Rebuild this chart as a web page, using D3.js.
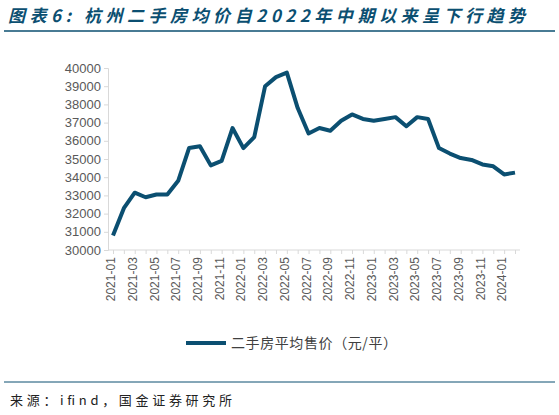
<!DOCTYPE html>
<html><head><meta charset="utf-8">
<script src="https://cdn.jsdelivr.net/npm/d3@7"></script>
<style>body{margin:0;background:#fff}svg{font-family:"Noto Sans CJK SC","Noto Sans",sans-serif}</style>
</head><body><svg id="c" width="559" height="415"></svg>
<script>
const months = ['2021-01','2021-02','2021-03','2021-04','2021-05','2021-06','2021-07','2021-08','2021-09','2021-10','2021-11','2021-12',
  '2022-01','2022-02','2022-03','2022-04','2022-05','2022-06','2022-07','2022-08','2022-09','2022-10','2022-11','2022-12',
  '2023-01','2023-02','2023-03','2023-04','2023-05','2023-06','2023-07','2023-08','2023-09','2023-10','2023-11','2023-12',
  '2024-01','2024-02']
const prices = [30800,32300,33150,32900,33050,33050,33800,35600,35700,34650,34900,36700,
  35600,36200,39000,39500,39750,37800,36400,36700,36550,37100,37450,37200,
  37100,37200,37300,36800,37300,37200,35600,35300,35050,34950,34700,34600,
  34150,34250]
const yTicks = d3.range(30000, 40001, 1000)
const color = '#0b4f71'

const svg = d3.select('#c')
svg.append('text').attr('x', 8).attr('y', 22).attr('font-size', 17).attr('font-weight', 'bold')
  .attr('font-style', 'italic').attr('fill', color).attr('textLength', 517).attr('lengthAdjust', 'spacing')
  .text('图表6: 杭州二手房均价自2022年中期以来呈下行趋势')
svg.append('line').attr('x1', 4).attr('x2', 555).attr('y1', 31).attr('y2', 31).attr('stroke', color).attr('stroke-width', 1.5)

const x = d3.scalePoint().domain(months).range([113, 515])
const y = d3.scaleLinear().domain([30000, 40000]).range([250, 68])

const yAxis = svg.append('g').attr('transform', 'translate(108,0)')
  .call(d3.axisLeft(y).tickValues(yTicks).tickSize(4).tickFormat(d3.format('d')))
yAxis.selectAll('text').attr('font-size', 13).attr('fill', '#595959').attr('font-family', 'Liberation Sans, Arial')
yAxis.selectAll('line,path').attr('stroke', '#d9d9d9')

const xAxis = svg.append('g').attr('transform', 'translate(0,250)')
  .call(d3.axisBottom(x).tickSize(4).tickFormat((d, i) => i % 2 === 0 ? d : ''))
xAxis.select('path').attr('d', 'M108,0H520').attr('stroke', '#d9d9d9')
xAxis.selectAll('line').attr('stroke', '#d9d9d9')
xAxis.selectAll('text').attr('font-size', 12).attr('fill', '#595959').attr('font-family', 'Liberation Sans, Arial')
  .attr('transform', 'rotate(-90)').attr('text-anchor', 'end').attr('dx', '-0.6em').attr('dy', '-0.45em')

svg.append('path').datum(prices)
  .attr('d', d3.line().x((d, i) => x(months[i])).y(d => y(d)))
  .attr('fill', 'none').attr('stroke', color).attr('stroke-width', 4).attr('stroke-linejoin', 'round')

svg.append('line').attr('x1', 186).attr('x2', 226).attr('y1', 343).attr('y2', 343).attr('stroke', color).attr('stroke-width', 4)
svg.append('text').attr('x', 231).attr('y', 348).attr('font-size', 14).attr('fill', '#404040')
  .attr('textLength', 166).attr('lengthAdjust', 'spacing').text('二手房平均售价（元/平）')

svg.append('line').attr('x1', 4).attr('x2', 555).attr('y1', 382).attr('y2', 382).attr('stroke', color).attr('stroke-width', 1)
svg.append('text').attr('x', 10).attr('y', 405).attr('font-size', 13).attr('fill', '#222')
  .attr('textLength', 222).attr('lengthAdjust', 'spacing').text('来源：ifind，国金证券研究所')
</script></body></html>
